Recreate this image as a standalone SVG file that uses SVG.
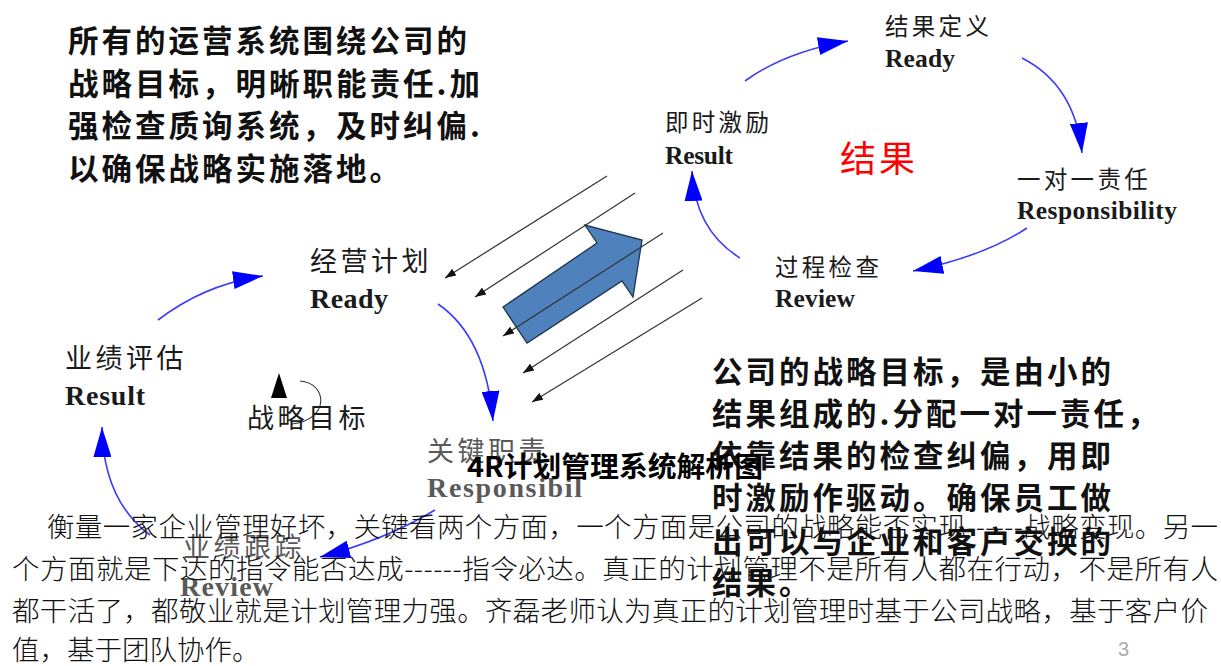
<svg xmlns="http://www.w3.org/2000/svg" width="1221" height="666" viewBox="0 0 1221 666">
<defs>
<style>
.cjk{font-family:"Noto Sans CJK SC","Noto Sans",sans-serif}
.blk{font-family:"Noto Sans CJK SC","Noto Sans",sans-serif;font-size:30.5px;font-weight:bold;letter-spacing:3px;fill:#111}
.lbl{font-family:"Noto Sans CJK SC",sans-serif;font-size:27px;letter-spacing:3.5px;fill:#1a1a1a}
.lbs{font-family:"Noto Sans CJK SC",sans-serif;font-size:23.5px;letter-spacing:3.3px;fill:#1a1a1a}
.en{font-family:"Liberation Serif","Times New Roman",serif;font-weight:bold;font-size:28px;fill:#1a1a1a}
.ens{font-family:"Liberation Serif","Times New Roman",serif;font-weight:bold;font-size:25.5px;fill:#1a1a1a}
.fade{fill:#5a5a5a}
.para{font-family:"Noto Sans CJK SC",sans-serif;font-size:27.5px;font-weight:300;fill:#111}
.cyc{fill:none;stroke:#3c3cff;stroke-width:1.6}
.diag{fill:none;stroke:#333;stroke-width:1.2}
</style>
<marker id="bh" markerUnits="userSpaceOnUse" markerWidth="30" markerHeight="18" refX="30" refY="9" orient="auto" viewBox="0 0 30 18">
<path d="M0,0 L30,9 L0,18 Z" fill="#0000ff"/>
</marker>
<marker id="kh" markerUnits="userSpaceOnUse" markerWidth="11" markerHeight="8" refX="11" refY="4" orient="auto" viewBox="0 0 11 8">
<path d="M0,0 L11,4 L0,8 Z" fill="#111"/>
</marker>
</defs>
<rect width="1221" height="666" fill="#fff"/>

<g id="connectors">
<path class="cyc" d="M158,320 Q205,284 263,276" marker-end="url(#bh)"/>
<path class="cyc" d="M438,304 Q486,337 493,421" marker-end="url(#bh)"/>
<path class="cyc" d="M435,510 Q385,540 320,557" marker-end="url(#bh)"/>
<path class="cyc" d="M150,535 Q103,500 102,427" marker-end="url(#bh)"/>
<path class="cyc" d="M745,81 Q785,52 848,41" marker-end="url(#bh)"/>
<path class="cyc" d="M1022,58 Q1075,85 1082,153" marker-end="url(#bh)"/>
<path class="cyc" d="M1027,228 Q985,256 913,271" marker-end="url(#bh)"/>
<path class="cyc" d="M740,258 Q695,230 692,171" marker-end="url(#bh)"/>
<path d="M300,381 C328,383 330,420 292,424" fill="none" stroke="#333" stroke-width="1.1"/>
<polygon points="279,373 271,398 287,398" fill="#000"/>
</g>

<g id="big-arrow">
<polygon points="503,307 597,243 585,225 642,240 633,297 622,281 527,343" fill="#4f81bd" stroke="#1f3550" stroke-width="1.3"/>
</g>

<g id="diagonals">
<line class="diag" x1="607" y1="176" x2="445" y2="278" marker-end="url(#kh)"/>
<line class="diag" x1="635" y1="193" x2="475" y2="297" marker-end="url(#kh)"/>
<line class="diag" x1="663" y1="233" x2="503" y2="336" marker-end="url(#kh)"/>
<line class="diag" x1="683" y1="270" x2="523" y2="373" marker-end="url(#kh)"/>
<line class="diag" x1="702" y1="298" x2="532" y2="402" marker-end="url(#kh)"/>
</g>

<g id="n-jingying-jihua"><text class="lbl" x="310" y="271">经营计划</text><text class="en" x="310" y="308" textLength="78">Ready</text></g>
<g id="n-yeji-pinggu"><text class="lbl" x="65" y="368">业绩评估</text><text class="en" x="65" y="405" textLength="80">Result</text></g>
<g id="n-zhanlue-mubiao"><text class="lbl" x="247" y="428">战略目标</text></g>
<g id="n-guanjian-zhize"><text class="lbl fade" x="427" y="461">关键职责</text><text class="en fade" x="427" y="497" textLength="155">Responsibil</text></g>
<g id="n-yeji-genzong"><text class="lbl fade" x="183" y="557">业绩跟踪</text><text class="en fade" x="180" y="596" textLength="93">Review</text></g>

<g id="n-jieguo-dingyi"><text class="lbs" x="885" y="35">结果定义</text><text class="ens" x="885" y="67" textLength="70">Ready</text></g>
<g id="n-jishi-jili"><text class="lbs" x="665" y="131">即时激励</text><text class="ens" x="665" y="164" textLength="68">Result</text></g>
<g id="n-jieguo"><text class="cjk" x="840" y="172" font-size="36" letter-spacing="3" fill="#ff0000">结果</text></g>
<g id="n-yiduiyi-zeren"><text class="lbs" x="1017" y="188">一对一责任</text><text class="ens" x="1017" y="219" textLength="160">Responsibility</text></g>
<g id="n-guocheng-jiancha"><text class="lbs" x="775" y="276">过程检查</text><text class="ens" x="775" y="307" textLength="80">Review</text></g>

<g id="text-top-left">
<text class="blk" x="68" y="52">所有的运营系统围绕公司的</text>
<text class="blk" x="68" y="95">战略目标，明晰职能责任.加</text>
<text class="blk" x="68" y="137">强检查质询系统，及时纠偏.</text>
<text class="blk" x="68" y="180">以确保战略实施落地。</text>
</g>

<g id="text-right">
<text class="blk" x="712" y="383">公司的战略目标，是由小的</text>
<text class="blk" x="712" y="425">结果组成的.分配一对一责任，</text>
<text class="blk" x="712" y="467">依靠结果的检查纠偏，用即</text>
<text class="blk" x="712" y="509">时激励作驱动。确保员工做</text>
<text class="blk" x="712" y="553">出可以与企业和客户交换的</text>
<text class="blk" x="712" y="594">结果。</text>
</g>

<g id="title">
<text class="cjk" x="467" y="477" font-size="28" font-weight="bold" fill="#000" textLength="296" lengthAdjust="spacingAndGlyphs">4R计划管理系统解析图</text>
</g>

<g id="paragraph">
<text class="para" x="47" y="537" textLength="1171">衡量一家企业管理好坏，关键看两个方面，一个方面是公司的战略能否实现------战略变现。另一</text>
<text class="para" x="12" y="579" textLength="1206">个方面就是下达的指令能否达成------指令必达。真正的计划管理不是所有人都在行动，不是所有人</text>
<text class="para" x="12" y="621" textLength="1196">都干活了，都敬业就是计划管理力强。齐磊老师认为真正的计划管理时基于公司战略，基于客户价</text>
<text class="para" x="12" y="660">值，基于团队协作。</text>
</g>

<g id="page-number"><text x="1118" y="656" font-family="Liberation Sans Narrow, Liberation Sans, sans-serif" font-size="20" fill="#aaa">3</text></g>
</svg>
